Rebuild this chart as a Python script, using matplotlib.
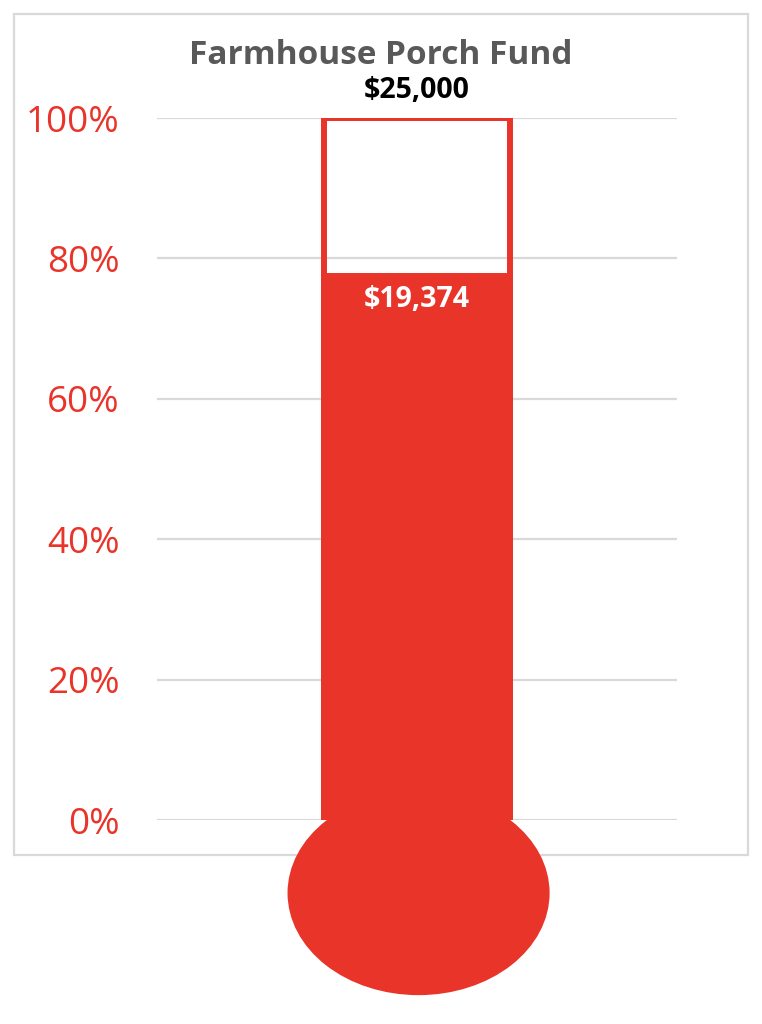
import matplotlib.pyplot as plt
from matplotlib.patches import Ellipse, Rectangle

# chart values
title = "Farmhouse Porch Fund"
goal = 25000
raised = 19374
tick_values = [0, 0.2, 0.4, 0.6, 0.8, 1.0]
tick_labels = ["0%", "20%", "40%", "60%", "80%", "100%"]

red = "#E9342A"
grid_gray = "#D9D9D9"
font = "Open Sans"

fig = plt.figure(figsize=(7.62, 10.24), dpi=100)

# outer chart border (like the Excel chart area), behind the axes
frame = Rectangle((14 / 762, 169 / 1024), 734 / 762, 841 / 1024,
                  transform=fig.transFigure, fill=False,
                  edgecolor=grid_gray, linewidth=1.6, zorder=-5)
fig.patches.append(frame)

ax = fig.add_axes([157 / 762, 204 / 1024, 520 / 762, 702 / 1024])
ax.set_zorder(1)
ax.patch.set_alpha(0)
ax.set_xlim(-0.5, 0.5)
ax.set_ylim(0, 1)

for s in ax.spines.values():
    s.set_visible(False)
ax.set_xticks([])
ax.set_yticks(tick_values)
ax.set_yticklabels(tick_labels, fontsize=26.5, color=red, family=font)
ax.tick_params(axis="y", length=0, pad=27)
ax.yaxis.grid(True, color=grid_gray, linewidth=1.6)
ax.set_axisbelow(True)

pct = raised / goal
bw = 0.358

# goal outline and raised fill
ax.bar([0], [1.0], width=bw, facecolor="none", edgecolor=red, linewidth=4.3, zorder=3)
ax.bar([0], [pct], width=bw, facecolor=red, edgecolor=red, linewidth=4.3, zorder=4)

# bulb
ax.add_patch(Ellipse((0.003, -0.104), 0.504, 0.291, facecolor=red, edgecolor="none",
                     clip_on=False, zorder=5))

ax.text(0, 1.0 + 0.039, f"${goal:,}", ha="center", va="center", fontsize=20.5,
        fontweight="bold", color="black", family=font)
ax.text(0, pct - 0.034, f"${raised:,}", ha="center", va="center", fontsize=20.5,
        fontweight="bold", color="white", family=font, zorder=6)

fig.text(380.5 / 762, 1 - 56 / 1024, title, ha="center", va="center", fontsize=24,
         fontweight="bold", color="#595959", family=font)

fig.savefig("out.png", dpi=100)
